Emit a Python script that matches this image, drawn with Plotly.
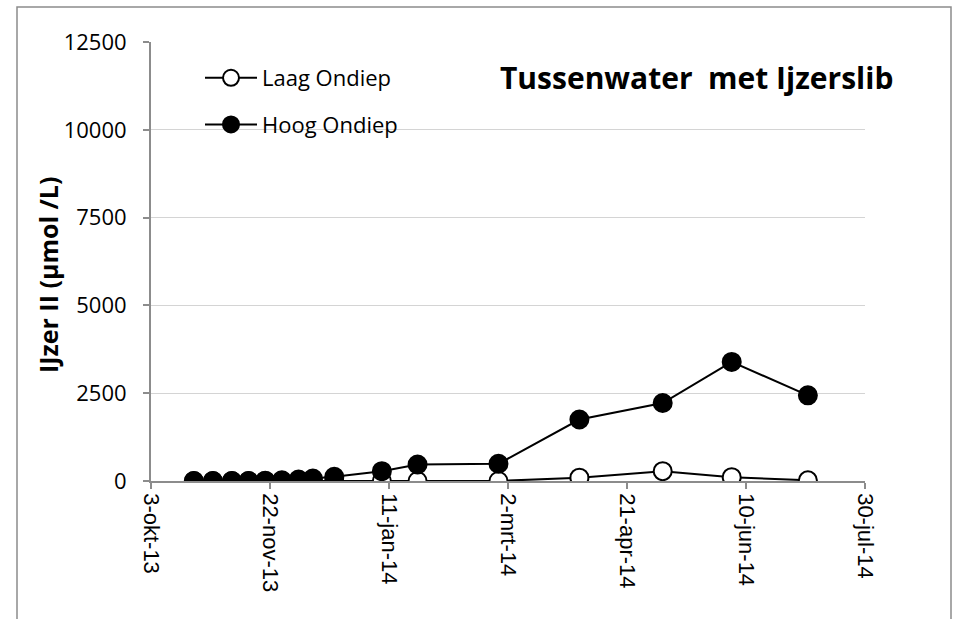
import plotly.graph_objects as go

# Sampling dates and dissolved Fe(II) in pore water (µmol/L)
dates = [
    "2013-10-21", "2013-10-29", "2013-11-06", "2013-11-13", "2013-11-20",
    "2013-11-27", "2013-12-04", "2013-12-10", "2013-12-19", "2014-01-08",
    "2014-01-23", "2014-02-26", "2014-04-01", "2014-05-06", "2014-06-04",
    "2014-07-06",
]
laag_ondiep = [0, 0, 0, 0, 0, 0, 0, 0, 0, 0, 0, 0, 95, 280, 110, 20]
hoog_ondiep = [0, 0, 0, 0, 10, 20, 40, 70, 120, 280, 470, 490, 1750, 2220, 3390, 2440]

tick_dates = ["2013-10-03", "2013-11-22", "2014-01-11", "2014-03-02",
              "2014-04-21", "2014-06-10", "2014-07-30"]
tick_labels = ["3-okt-13", "22-nov-13", "11-jan-14", "2-mrt-14",
               "21-apr-14", "10-jun-14", "30-jul-14"]
y_ticks = [0, 2500, 5000, 7500, 10000, 12500]
y_labels = ["0", "2500", "5000", "7500", "10000", "12500"]

FONT = "Open Sans"

fig = go.Figure()
fig.add_trace(go.Scatter(
    x=dates, y=laag_ondiep, name="Laag Ondiep", mode="lines+markers",
    legendgroup="a",
    line=dict(color="black", width=2),
    marker=dict(size=18, color="white", line=dict(color="black", width=2)),
))
fig.add_trace(go.Scatter(
    x=dates, y=hoog_ondiep, name="Hoog Ondiep", mode="lines+markers",
    legendgroup="b",
    line=dict(color="black", width=2),
    marker=dict(size=18, color="black", line=dict(color="black", width=2)),
))

L, R, T, B = 151, 94, 42, 138
W, H = 959, 619
pw, ph = W - L - R, H - T - B

def px(x):
    return (x - L) / pw

def py(y):
    return (H - B - y) / ph

fig.update_layout(
    width=W, height=H,
    margin=dict(l=L, r=R, t=T, b=B),
    paper_bgcolor="white", plot_bgcolor="white",
    font=dict(family=FONT, color="black", size=20),
    showlegend=True,
    legend=dict(
        x=px(200), y=py(57), xanchor="left", yanchor="top",
        bgcolor="rgba(0,0,0,0)", font=dict(size=22, family=FONT),
        traceorder="grouped", tracegroupgap=15, itemwidth=52,
    ),
    xaxis=dict(
        type="date", range=["2013-10-03", "2014-07-30"],
        tickvals=tick_dates, ticktext=tick_labels, tickangle=90,
        tickfont=dict(family="Liberation Sans", size=22, color="black"),
        showgrid=False, zeroline=False,
        showline=True, linecolor="#8c8c8c", linewidth=1.5,
        ticks="outside", ticklen=6, tickcolor="#8c8c8c", tickwidth=1.5,
    ),
    yaxis=dict(
        range=[0, 12500], tickvals=y_ticks, ticktext=y_labels,
        tickfont=dict(family=FONT, size=22, color="black"),
        showgrid=True, gridcolor="#d4d4d4", gridwidth=1,
        zeroline=False,
        showline=True, linecolor="#8c8c8c", linewidth=2,
        ticks="outside", ticklen=6, tickcolor="#8c8c8c", tickwidth=1.5,
        ticklabelstandoff=12,
    ),
    annotations=[
        dict(text="<b>Tussenwater  met Ijzerslib</b>", xref="paper", yref="paper",
             x=px(895), y=py(77), xanchor="right", yanchor="middle",
             showarrow=False, font=dict(family=FONT, size=30, color="black")),
        dict(text="<b>IJzer II (µmol /L)</b>", xref="paper", yref="paper",
             x=px(48), y=py(275), xanchor="center", yanchor="middle",
             textangle=-90, showarrow=False,
             font=dict(family=FONT, size=25, color="black")),
    ],
    shapes=[
        dict(type="rect", xref="paper", yref="paper",
             x0=px(17), x1=px(951), y0=py(630), y1=py(7),
             line=dict(color="#8c8c8c", width=1.5), fillcolor="rgba(0,0,0,0)",
             layer="below"),
    ],
)

fig.write_html("out.html")
